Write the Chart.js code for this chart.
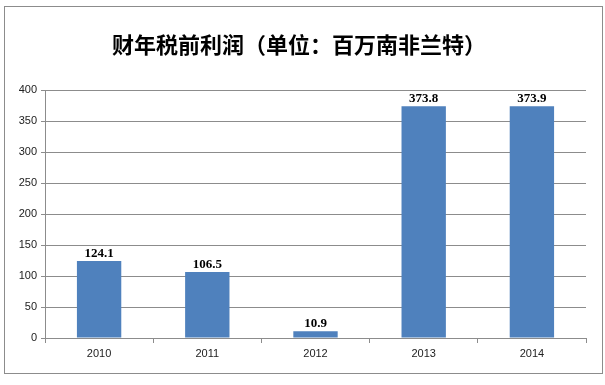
<!DOCTYPE html>
<html><head><meta charset="utf-8">
<script src="https://cdn.jsdelivr.net/npm/chart.js@4.4.0/dist/chart.umd.min.js"></script>
<style>
html,body{margin:0;padding:0;background:#fff;}
#wrap{position:absolute;left:0;top:0;width:605px;height:385px;}
#frame{position:absolute;left:4px;top:6px;border:1px solid #8c8c8c;box-sizing:border-box;width:599px;height:368px;}
canvas{position:absolute;left:0;top:0;}
</style></head>
<body>
<div id="wrap"><div id="frame"></div><canvas id="c" width="605" height="385"></canvas></div>
<script>
const title = "财年税前利润（单位：百万南非兰特）";
const categories = ["2010","2011","2012","2013","2014"];
const profit = [124.1, 106.5, 10.9, 373.8, 373.9];
const yTicks = [0,50,100,150,200,250,300,350,400];

const labelPlugin = {
  id:'labels',
  afterDatasetsDraw(chart){
    const ctx = chart.ctx;
    const meta = chart.getDatasetMeta(0);
    ctx.save();
    ctx.font = "bold 13px 'Liberation Serif', serif";
    ctx.fillStyle = "#000";
    ctx.textAlign = "center";
    ctx.textBaseline = "alphabetic";
    meta.data.forEach((bar,i)=>{
      ctx.fillText(profit[i].toFixed(1), bar.x, bar.y - 4);
    });
    ctx.restore();
  }
};
const titlePlugin = {
  id:'ttl',
  afterDraw(chart){
    const ctx = chart.ctx;
    ctx.save();
    ctx.font = "bold 22px 'Noto Sans CJK SC', sans-serif";
    ctx.fillStyle = "#000";
    ctx.textAlign = "center";
    ctx.textBaseline = "middle";
    ctx.fillText(title, 299, 45);
    ctx.restore();
  }
};

new Chart(document.getElementById('c'), {
  type:'bar',
  data:{labels:categories, datasets:[{data:profit, backgroundColor:'#4F81BD', borderWidth:0, barPercentage:0.41, categoryPercentage:1}]},
  options:{
    responsive:false, animation:false,
    layout:{padding:{left:10,right:19,top:90,bottom:12}},
    plugins:{legend:{display:false},title:{display:false},tooltip:{enabled:false}},
    scales:{
      x:{
        grid:{display:true,drawOnChartArea:false,drawTicks:true,tickLength:5,color:'#8c8c8c',offset:true},
        border:{display:true,color:'#8c8c8c'},
        ticks:{color:'#222',font:{family:"'Liberation Sans', Arial, sans-serif",size:11},padding:4},
        afterFit(s){s.height=35;}
      },
      y:{
        min:0,max:400,
        afterBuildTicks(s){s.ticks = yTicks.map(v=>({value:v}));},
        grid:{color:'#8c8c8c',tickLength:4,drawTicks:true},
        border:{display:true,color:'#8c8c8c'},
        ticks:{color:'#222',font:{family:"'Liberation Sans', Arial, sans-serif",size:11},padding:4},
        afterFit(s){s.width=35;}
      }
    }
  },
  plugins:[labelPlugin,titlePlugin]
});
</script>
</body></html>
